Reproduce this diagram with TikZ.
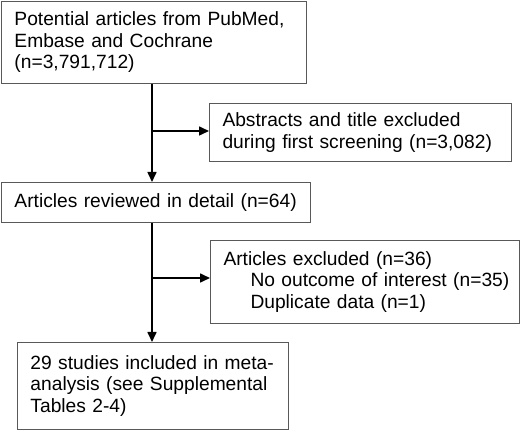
\documentclass[tikz,border=0pt]{standalone}
\usepackage{fontspec}
\setmainfont{Liberation Sans}
\usetikzlibrary{arrows.meta}
\begin{document}
\begin{tikzpicture}[x=1pt,y=1pt,
  flowbox/.style={draw=black!65,line width=1pt,anchor=north west,inner xsep=0pt,inner ysep=0pt,
    align=left,font=\fontsize{19.2}{21.5}\selectfont},
  flowline/.style={line width=1.6pt,black},
  flowarrow/.style={flowline,-{Triangle[length=10pt,width=9pt]}}]
\useasboundingbox (0,0) rectangle (520,-430);
\node[flowbox,minimum width=305pt,minimum height=82pt,text width=305pt] (a) at (1,-1)
  {\mbox{\hspace*{13pt}Potential articles from PubMed,}\\\mbox{\hspace*{13pt}Embase and Cochrane}\\\mbox{\hspace*{13pt}(n=3,791,712)}};
\node[flowbox,minimum width=302pt,minimum height=58pt,text width=302pt] (b) at (209,-103)
  {\mbox{\hspace*{13pt}Abstracts and title excluded}\\\mbox{\hspace*{13pt}during first screening (n=3,082)}};
\node[flowbox,minimum width=309pt,minimum height=40pt,text width=309pt] (c) at (1,-182)
  {\mbox{\hspace*{13pt}Articles reviewed in detail (n=64)}};
\node[flowbox,minimum width=309pt,minimum height=83pt,text width=309pt] (d) at (210,-240)
  {\mbox{\hspace*{13pt}Articles excluded (n=36)}\\\mbox{\hspace*{40pt}No outcome of interest (n=35)}\\\mbox{\hspace*{40pt}Duplicate data (n=1)}};
\node[flowbox,minimum width=271pt,minimum height=87pt,text width=271pt] (e) at (17,-342)
  {\mbox{\hspace*{13pt}29 studies included in meta-}\\\mbox{\hspace*{13pt}analysis (see Supplemental}\\\mbox{\hspace*{13pt}Tables 2-4)}};
\coordinate (j1) at (152,-131);
\coordinate (j2) at (152,-278);
\draw[flowarrow] (a.south -| j1) -- (c.north -| j1);
\draw[flowarrow] (j1) -- (j1 -| b.west);
\draw[flowarrow] (c.south -| j2) -- (e.north -| j2);
\draw[flowarrow] (j2) -- (j2 -| d.west);
\end{tikzpicture}
\end{document}
